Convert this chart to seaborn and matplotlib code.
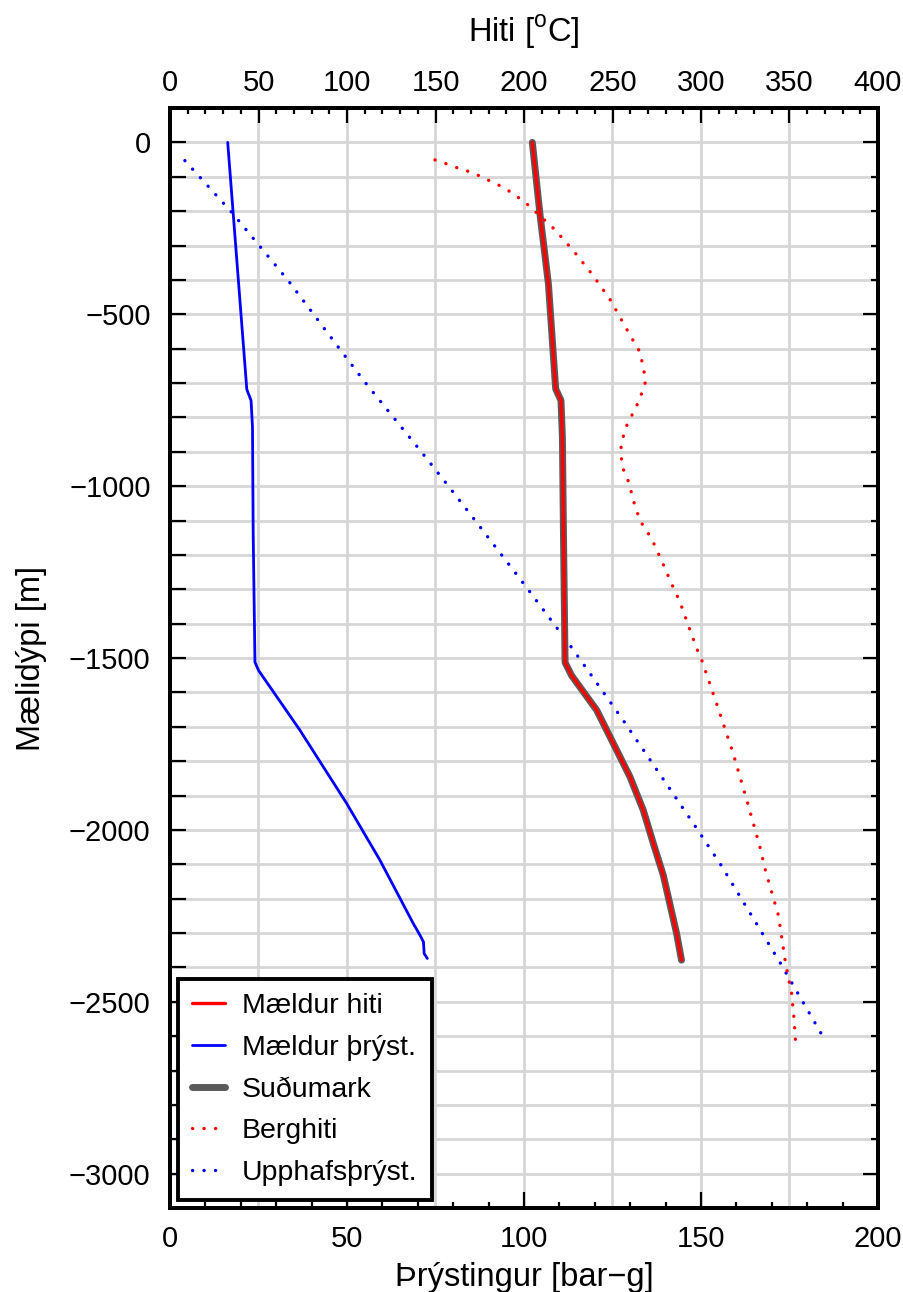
import matplotlib
matplotlib.use("Agg")
import matplotlib.pyplot as plt
import seaborn as sns
import numpy as np
from matplotlib.ticker import MultipleLocator

# ---------------- data ----------------
# Measured pressure (bar-g) vs depth (m)
depth_pres = [0, -719, -751, -828, -1139, -1512, -1536, -1631, -1710, -1923, -2088,
              -2272, -2306, -2326, -2360, -2374]
pres_meas = [16.3, 21.7, 22.9, 23.3, 23.5, 24.0, 25.0, 31.4, 36.7, 49.9, 59.3,
             68.7, 70.6, 71.6, 71.8, 72.7]

# Measured temperature (C) vs depth
depth_temp = [0, -208, -412, -717, -751, -858, -1139, -1513, -1551, -1652, -1749, -1846,
              -1943, -2040, -2132, -2301, -2379]
temp_meas = [204.7, 209.0, 213.8, 217.9, 220.9, 221.7, 222.3, 223.2, 226.9, 241.1, 250.5, 259.9,
             267.4, 273.1, 278.7, 286.2, 289.0]

# Boiling point curve (C)
depth_boil = [0, -208, -412, -717, -751, -858, -1139, -1513, -1551, -1652, -1749, -1846,
              -1943, -2040, -2132, -2301, -2379]
temp_boil = [204.7, 209.0, 213.8, 217.9, 220.9, 221.7, 222.3, 223.2, 226.9, 241.1, 250.5, 259.9,
             267.4, 273.1, 278.7, 286.2, 289.0]

# Formation temperature (C)
depth_rock = [-51, -61, -71, -89, -102, -126, -140, -174, -194, -252, -317, -385, -457, -557, -610,
              -693, -751, -824, -877, -940, -990, -1042, -1100, -1153, -1206, -1284, -1337, -1419,
              -1473, -1500, -1636, -1773, -1912, -2050, -2120, -2248, -2389, -2476, -2558, -2616]
temp_rock = [149.7, 155.4, 160.5, 171.4, 176.6, 186.4, 191.1, 200.6, 204.8, 217.1, 228.2, 238.7,
             248.6, 259.5, 265.5, 268.9, 265.1, 258.0, 254.8, 255.2, 259.3, 261.8, 265.5, 272.1,
             276.8, 283.4, 288.1, 293.8, 297.6, 300.0, 309.0, 317.9, 325.8, 333.3, 336.5, 343.7,
             347.8, 351.2, 352.7, 353.4]

# Initial pressure (bar-g)
depth_init = [-53, -203, -294, -402, -606, -698, -899, -990, -1080, -1289, -1473, -1684, -1996, -2100,
              -2389, -2613]
pres_init = [4.2, 17.4, 24.7, 33.4, 48.3, 55.1, 70.9, 77.9, 84.7, 100.3, 113.7, 128.2, 148.8, 155.5,
             172.5, 185.1]

labels = ["Mældur hiti", "Mældur þrýst.", "Suðumark", "Berghiti", "Upphafsþrýst."]

# ---------------- style ----------------
sns.set_theme(style="white")
plt.rcParams["font.family"] = ["Liberation Sans", "DejaVu Sans"]
plt.rcParams["mathtext.fontset"] = "custom"
plt.rcParams["mathtext.rm"] = "Liberation Sans"
plt.rcParams["axes.unicode_minus"] = True
for k in ("text.color", "axes.labelcolor", "xtick.color", "ytick.color", "axes.edgecolor"):
    plt.rcParams[k] = "black"

fig = plt.figure(figsize=(9.04, 12.92), dpi=100)
ax = fig.add_axes([170 / 904, 1 - 1208 / 1292, 708 / 904, 1100 / 1292])
ax2 = ax.twiny()

dot = (0, (0.05, 3.4))

# pressure lines on bottom axis
sns.lineplot(x=pres_meas, y=depth_pres, sort=False, estimator=None, ax=ax,
             color="#0000ff", lw=2.0, label=labels[1], legend=False)
sns.lineplot(x=pres_init, y=depth_init, sort=False, estimator=None, ax=ax,
             color="#0000ff", lw=2.4, label=labels[4], legend=False)
ax.lines[-1].set_linestyle(dot)
ax.lines[-1].set_dash_capstyle("round")

# temperature lines on top axis
sns.lineplot(x=temp_boil, y=depth_boil, sort=False, estimator=None, ax=ax2,
             color="#5a5a5a", lw=5.0, label=labels[2], legend=False)
sns.lineplot(x=temp_meas, y=depth_temp, sort=False, estimator=None, ax=ax2,
             color="#ff0000", lw=2.4, label=labels[0], legend=False)
sns.lineplot(x=temp_rock, y=depth_rock, sort=False, estimator=None, ax=ax2,
             color="#ff0000", lw=2.4, label=labels[3], legend=False)
ax2.lines[-1].set_linestyle(dot)
ax2.lines[-1].set_dash_capstyle("round")

# ---------------- axes ----------------
ax.set_xlim(0, 200)
ax.set_ylim(-3100, 100)
ax2.set_xlim(0, 400)

ax.xaxis.set_major_locator(MultipleLocator(50))
ax.xaxis.set_minor_locator(MultipleLocator(10))
ax.yaxis.set_major_locator(MultipleLocator(500))
ax.yaxis.set_minor_locator(MultipleLocator(100))
ax2.xaxis.set_major_locator(MultipleLocator(50))
ax2.xaxis.set_minor_locator(MultipleLocator(10))

# grid
for v in np.arange(25, 200, 25):
    ax.axvline(v, color="#d6d6d6", lw=2.0, zorder=0)
for h in np.arange(-3000, 100, 100):
    ax.axhline(h, color="#d6d6d6", lw=2.0, zorder=0)
ax.grid(False)
ax2.grid(False)

TS = 21
ax.tick_params(axis="x", which="major", direction="in", length=11.5, width=1.6, labelsize=TS,
               pad=12, bottom=True, top=False)
ax.tick_params(axis="x", which="minor", direction="in", length=4.5, width=1.6, bottom=True, top=False)
ax.tick_params(axis="y", which="major", direction="in", length=11.5, width=1.6, labelsize=TS,
               pad=14, left=True, right=False)
ax.tick_params(axis="y", which="minor", direction="in", length=11.5, width=1.6, left=True, right=False)
ax2.tick_params(axis="x", which="major", direction="in", length=11, width=1.6, labelsize=TS,
                pad=8, top=True, bottom=False)
ax2.tick_params(axis="x", which="minor", direction="in", length=4.5, width=1.6, top=True, bottom=False)

# right-side ticks (no labels)
axr = ax.secondary_yaxis("right")
axr.yaxis.set_major_locator(MultipleLocator(500))
axr.yaxis.set_minor_locator(MultipleLocator(100))
axr.tick_params(axis="y", which="major", direction="in", length=11, width=1.6, labelright=False)
axr.tick_params(axis="y", which="minor", direction="in", length=5, width=1.6)
axr.spines["right"].set_linewidth(2.8)

for a in (ax, ax2):
    for s in a.spines.values():
        s.set_color("black")
        s.set_linewidth(2.8)

ax.set_xlabel("Þrýstingur [bar−g]", fontsize=23.5, labelpad=7)
ax.set_ylabel("Mælidýpi [m]", fontsize=23.5, labelpad=16)
ax2.set_xlabel(r"Hiti [$^{\mathrm{o}}$C]", fontsize=23.5, labelpad=20)

# ---------------- legend ----------------
h_all = {l.get_label(): l for l in ax.lines + ax2.lines}
handles = [h_all[k] for k in labels]
leg = ax2.legend(handles, labels, loc="lower left", bbox_to_anchor=(0.011, 0.007),
                 borderaxespad=0, fontsize=20.5, frameon=True, fancybox=False,
                 handlelength=1.15, handletextpad=0.6, labelspacing=0.55,
                 borderpad=0.5, framealpha=1)
leg.get_frame().set_edgecolor("black")
leg.get_frame().set_linewidth(2.8)

fig.savefig("out.png", dpi=100)
